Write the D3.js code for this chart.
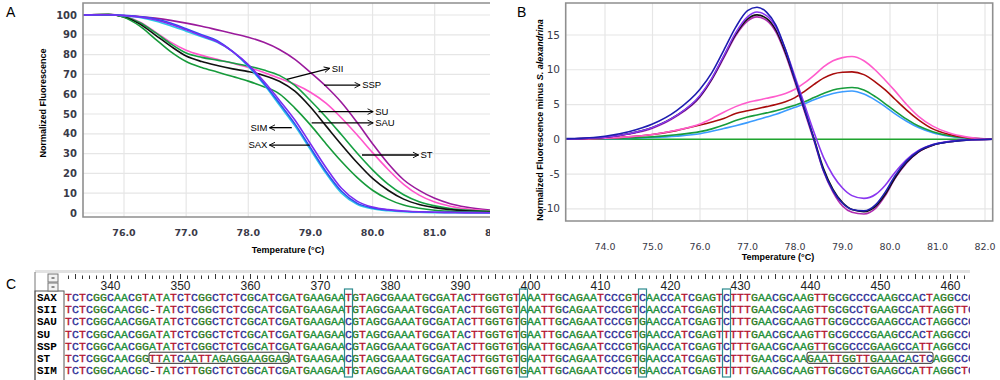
<!DOCTYPE html>
<html>
<head>
<meta charset="utf-8">
<script src="https://cdn.jsdelivr.net/npm/d3@7"></script>
<style>
  body { margin: 0; background: #fff; }
  #chart { width: 1000px; height: 380px; }
  text { font-family: "Liberation Sans", Arial, sans-serif; }
</style>
</head>
<body>
<div id="chart"></div>
<script>
/* panel A : melting curves, normalized fluorescence vs temperature */
const tempA = [75.34, 75.75, 76, 76.25, 76.5, 76.75, 77, 77.25, 77.5, 77.75, 78, 78.25, 78.5,
    78.75, 79, 79.25, 79.5, 79.75, 80, 80.25, 80.5, 80.75, 81, 81.25, 81.5, 81.9];
const purpleA = [100, 100.2, 99.7, 99.2, 98.4, 97.3, 95.9, 94.3, 92.5, 90.7, 88.8, 86.2, 82.6, 77.6, 71, 64, 55.8, 45.8, 35, 25, 16.8, 11.4, 7.4, 4.7, 3, 1.4];
const pinkA = [100, 100.3, 99.3, 96.5, 91.5, 86.3, 82.2, 79.6, 77.6, 75.6, 73.5, 71, 68, 65, 61, 55.5, 48, 39.5, 30.5, 22, 14.5, 9, 5.5, 3.4, 2.1, 1];
const green1A = [100, 100.2, 99.2, 96.2, 91.2, 85.5, 80.8, 78.6, 77.2, 75.8, 74.2, 72.2, 69.5, 64.5, 56.8, 48.5, 39.5, 30.3, 21.8, 14.6, 9.2, 5.7, 3.6, 2.3, 1.5, 0.8];
const blackA = [100, 100.1, 99, 95.5, 90, 84.3, 79.3, 76.5, 74.5, 72.8, 71.4, 69.5, 66.5, 61.5, 53.5, 44, 34.5, 25.5, 17.5, 11.5, 7, 4.3, 2.7, 1.7, 1.1, 0.6];
const green2A = [100, 100.4, 98.8, 94.5, 88, 81.5, 76.5, 73.5, 71.2, 68.9, 66.6, 63.8, 60.2, 53, 44.5, 35, 26, 18, 11.5, 7, 4, 2.4, 1.4, 0.9, 0.6, 0.3];
const cyanA = [100, 100.1, 99.6, 98.7, 97, 94.6, 91.8, 89, 86.2, 81.5, 74, 65, 54.5, 44, 32, 20, 10, 4.4, 2.1, 1.1, 0.6, 0.4, 0.2, 0.1, 0.1, 0];
const blueA = [100, 100.1, 99.8, 99.1, 98, 96, 93, 90, 87, 81.5, 74.5, 65.5, 55.5, 45, 33, 21, 11, 5, 2.6, 1.5, 0.9, 0.6, 0.4, 0.3, 0.2, 0.1];
const violetA = [100, 100.1, 99.7, 99, 97.6, 95.3, 92.5, 89.5, 86.5, 81.5, 75, 66.5, 57, 47, 35, 23, 12.5, 6, 3, 1.7, 1, 0.6, 0.4, 0.3, 0.2, 0.1];
const xTicksA = [76, 77, 78, 79, 80, 81, 82];
const yTicksA = [0, 10, 20, 30, 40, 50, 60, 70, 80, 90, 100];

// arrows of panel A, given in temperature / fluorescence units
const arrowsA = [
    { label: "SII", t0: 78.62, v0: 67.5, t1: 79.31, v1: 73.1 },
    { label: "SSP", t0: 79.22, v0: 64.6, t1: 79.80, v1: 64.6 },
    { label: "SU", t0: 79.13, v0: 51.2, t1: 80.01, v1: 51.2 },
    { label: "SAU", t0: 79.02, v0: 45.5, t1: 80.01, v1: 45.5 },
    { label: "SIM", t0: 78.70, v0: 43.1, t1: 78.34, v1: 43.1 },
    { label: "SAX", t0: 78.99, v0: 34.3, t1: 78.34, v1: 34.3 },
    { label: "ST", t0: 79.83, v0: 29.3, t1: 80.74, v1: 29.3 }
];

/* panel B : difference curves minus S. alexandrina */
const tempB = [73.17, 73.5, 74, 74.5, 75, 75.5, 76, 76.25, 76.5, 76.75, 77, 77.2, 77.4, 77.6, 77.8, 78,
    78.2, 78.4, 78.6, 78.8, 79, 79.2, 79.45, 79.7, 79.9, 80.1, 80.35, 80.6, 80.9, 81.25, 81.6, 82.16];
const flatB = [0, 0, 0, 0, 0, 0, 0, 0, 0, 0, 0, 0, 0, 0, 0, 0, 0, 0, 0, 0, 0, 0, 0, 0, 0, 0, 0, 0, 0, 0, 0, 0];
const lightBlueB = [0, 0.02, 0.06, 0.13, 0.25, 0.45, 0.8, 1.15, 1.55, 1.95, 2.4, 2.8, 3.2, 3.6, 4.1, 4.6, 5.1, 5.7, 6.2, 6.6, 6.85, 6.95, 6.5, 5.6, 4.7, 3.7, 2.6, 1.7, 0.95, 0.45, 0.18, 0];
const greenB = [0, 0.03, 0.08, 0.18, 0.35, 0.65, 1.1, 1.5, 2.05, 2.7, 3.2, 3.5, 3.8, 4.1, 4.5, 4.9, 5.4, 6, 6.6, 7.1, 7.35, 7.45, 7.1, 6.1, 5.1, 4.1, 2.9, 1.9, 1.1, 0.5, 0.2, 0];
const redB = [0, 0.05, 0.15, 0.35, 0.7, 1.25, 2.05, 2.5, 3, 3.7, 4.1, 4.4, 4.7, 5, 5.4, 6, 6.9, 7.9, 8.8, 9.4, 9.65, 9.7, 9.3, 8.2, 7.1, 5.8, 4.2, 2.8, 1.5, 0.7, 0.25, 0];
const pinkB = [0, 0.05, 0.15, 0.35, 0.7, 1.3, 2.2, 3, 3.9, 4.7, 5.3, 5.6, 5.9, 6.2, 6.6, 7.2, 8.1, 9.2, 10.4, 11.3, 11.75, 11.9, 11.3, 9.9, 8.5, 7, 5, 3.3, 1.9, 0.9, 0.35, 0];
const magentaB = [0.05, 0.1, 0.3, 0.75, 1.6, 3.3, 6.1, 8.6, 11.7, 14.9, 17, 17.6, 17.1, 15.4, 12.2, 8.2, 4, -0.2, -4.6, -7.6, -9.6, -10.5, -10.75, -9.9, -8.1, -5.7, -3.4, -1.85, -0.85, -0.35, -0.12, 0];
const blackB = [0.05, 0.1, 0.3, 0.8, 1.7, 3.4, 6.2, 8.7, 11.9, 15.1, 17.3, 17.9, 17.4, 15.7, 12.5, 8.5, 4.3, 0.1, -4.2, -7.2, -9.1, -10.1, -10.4, -9.6, -7.9, -5.6, -3.3, -1.8, -0.85, -0.35, -0.12, 0];
const violetB = [0.05, 0.1, 0.3, 0.8, 1.7, 3.4, 6.3, 8.8, 12, 15.3, 17.6, 18.3, 17.8, 16.1, 12.9, 9, 5, 1, -2.6, -5.2, -7, -8.1, -8.5, -7.9, -6.6, -4.8, -2.9, -1.6, -0.75, -0.3, -0.1, 0];
const navyB = [0.1, 0.15, 0.45, 1.1, 2.2, 4.1, 7.2, 9.6, 12.8, 16.1, 18.5, 19, 18.3, 16.4, 12.9, 8.6, 4.4, 0, -4.5, -7.4, -9.2, -10.1, -10.3, -9.4, -7.6, -5.3, -3.1, -1.7, -0.8, -0.35, -0.12, 0];
const xTicksB = [74, 75, 76, 77, 78, 79, 80, 81, 82];
const yTicksB = [-10, -5, 0, 5, 10, 15];

/* panel C : alignment */
const seqNames = ["SAX", "SII", "SAU", "SU", "SSP", "ST", "SIM"];
const seqs = [
    "TCTCGGCAACGTATATCTCGGCTCTCGCATCGATGAAGAATGTAGCGAAATGCGATACTTGGTGTAAATTGCAGAATCCCGTCAACCATCGAGTCTTTGAACGCAAGTTGCGCCCCAAGCCACTAGGCCC",
    "TCTCGGCAACGC-TATCTCGGCTCTCGCATCGATGAAGAATGTAGCGAAATGCGATACTTGGTGTAAATTGCAGAATCCCGTCAACCATCGAGTCTTTGAACGCAAGTTGCGCCTGAAGCCATTAGGTTC",
    "TCTCGGCAACGGATATCTCGGCTCTCGCATCGATGAAGAACGTAGCGAAATGCGATACTTGGTGTGAATTGCAGAATCCCGTGAACCATCGAGTCTTTGAACGCAAGTTGCGCCCGAAGCCACTAGGCCC",
    "TCTCGGCAACGGATATCTCGGCTCTCGCATCGATGAAGAACGTAGCGAAATGCGATACTTGGTGTGAATTGCAGAATCCCGTGAACCATCGAGTTTTTGAACGCAAGTTGCGCCCGAAGCCACTAGGCCC",
    "TCTCGGCAACGGATATCTCGGCTCTCGCATCGATGAAGAACGTAGCGAAATGCGATACTTGGTGTGAATTGCAGAATCCCGTGAACCATCGAGTCTTTGAACGCAAGTTGCGCCCGAAGCCATTAGGCCC",
    "TCTCGGCAACGGTTATCAATTAGAGGAAGGAGATGAAGAACGTAGCGAAATGCGATACTTGGTGTGAATTGCAGAATCCCGTGAACCATCGAGTCTTTGAACGCAAGAATTGGTTGAAACACTCAGGCCC",
    "TCTCGGCAACGC-TATCTTGGCTCTCGCATCGATGAAGAATGTAGCGAAATGCGATACTTGGTGTGAATTGCAGAATCCCGTGAACCATCGAGTTTTTGAACGCAAGTTGCGCCTGAAGCCATTAGGCTC"
];
const firstPos = 334;
const rulerLabels = [340, 350, 360, 370, 380, 390, 400, 410, 420, 430, 440, 450, 460];
const snpPos = [374, 399, 416, 428];
const stBlocks = [[346, 365], [440, 457]];

const width = 1000;
const height = 380;

const svg = d3.select("#chart")
    .append("svg")
    .attr("width", width)
    .attr("height", height);

const defs = svg.append("defs");
defs.append("marker")
    .attr("id", "arrowhead")
    .attr("viewBox", "0 0 10 10")
    .attr("refX", 9)
    .attr("refY", 5)
    .attr("markerWidth", 7)
    .attr("markerHeight", 7)
    .attr("markerUnits", "userSpaceOnUse")
    .attr("orient", "auto")
    .append("path")
    .attr("d", "M1,1 L9,5 L1,9")
    .attr("fill", "none")
    .attr("stroke", "#000")
    .attr("stroke-width", 1.3);

// generic helper that draws one melt panel
function drawPanel(cfg) {
    const outer = svg.append("g");
    // panel A is cropped on its right side
    if (cfg.cropRight) {
        defs.append("clipPath").attr("id", cfg.id + "crop")
            .append("rect").attr("x", 0).attr("y", 0).attr("width", cfg.cropRight).attr("height", 265);
        outer.attr("clip-path", `url(#${cfg.id}crop)`);
    }
    const g = outer.append("g");
    const x = cfg.x, y = cfg.y;

    defs.append("clipPath").attr("id", cfg.id)
        .append("rect")
        .attr("x", cfg.left).attr("y", cfg.top)
        .attr("width", cfg.right - cfg.left).attr("height", cfg.bottom - cfg.top);

    // grid
    g.selectAll(".vgrid")
        .data(cfg.xTicks.filter(d => x(d) < cfg.right))
        .join("line")
        .attr("x1", d => x(d)).attr("x2", d => x(d))
        .attr("y1", cfg.top).attr("y2", cfg.bottom)
        .attr("stroke", "#e6e6e6").attr("stroke-width", 1.2);
    g.selectAll(".hgrid")
        .data(cfg.yTicks)
        .join("line")
        .attr("x1", cfg.left).attr("x2", cfg.right)
        .attr("y1", d => y(d)).attr("y2", d => y(d))
        .attr("stroke", "#e6e6e6").attr("stroke-width", 1.2);

    // curves
    const line = d3.line()
        .x(d => x(d[0]))
        .y(d => y(d[1]))
        .curve(d3.curveMonotoneX);

    g.append("g")
        .attr("clip-path", `url(#${cfg.id})`)
        .selectAll("path")
        .data(cfg.series)
        .join("path")
        .attr("fill", "none")
        .attr("stroke", d => d.color)
        .attr("stroke-width", 1.6)
        .attr("d", d => line(cfg.temps.map((t, i) => [t, d.values[i]])));

    // frame
    const f = g.append("path")
        .attr("fill", "none")
        .attr("stroke", "#8f8f8f")
        .attr("stroke-width", 1.6);
    if (cfg.cropRight) {
        f.attr("d", `M${cfg.right},${cfg.top}H${cfg.left}V${cfg.bottom}H${cfg.right}`);
    } else {
        f.attr("d", `M${cfg.left},${cfg.top}H${cfg.right}V${cfg.bottom}H${cfg.left}Z`);
    }

    // tick labels
    g.selectAll(".xlab")
        .data(cfg.xTicks)
        .join("text")
        .attr("x", d => x(d))
        .attr("y", cfg.xLabelY)
        .attr("text-anchor", "middle")
        .style("font-family", "DejaVu Sans, sans-serif")
        .style("font-size", "9.5px")
        .style("font-weight", cfg.bold ? "bold" : "normal")
        .attr("fill", "#3a3a48")
        .text(d => d.toFixed(1));
    g.selectAll(".ylab")
        .data(cfg.yTicks)
        .join("text")
        .attr("x", cfg.yLabelX)
        .attr("y", d => y(d) + 3.6)
        .attr("text-anchor", "end")
        .style("font-family", "DejaVu Sans, sans-serif")
        .style("font-size", cfg.bold ? "10px" : "10.5px")
        .style("font-weight", cfg.bold ? "bold" : "normal")
        .attr("fill", "#3a3a48")
        .text(d => d);

    // axis titles
    g.append("text")
        .attr("x", cfg.xTitleX)
        .attr("y", cfg.xTitleY)
        .attr("text-anchor", "middle")
        .style("font-size", "9px")
        .style("font-weight", "bold")
        .text("Temperature (°C)");

    const yt = g.append("text")
        .attr("transform", `translate(${cfg.yTitleX},${cfg.yTitleY}) rotate(-90)`)
        .attr("text-anchor", "middle")
        .style("font-size", "9px")
        .style("font-weight", "bold");
    cfg.yTitle.forEach(part => {
        yt.append("tspan").style("font-style", part.italic ? "italic" : "normal").text(part.text);
    });

    // panel letter
    svg.append("text")
        .attr("x", cfg.letterX)
        .attr("y", cfg.letterY)
        .style("font-size", "14px")
        .text(cfg.letter);

    return g;
}

/* ---------- A ---------- */
const xA = d3.scaleLinear().domain([75.34, 81.89]).range([83, 490]);
const yA = d3.scaleLinear().domain([0, 100]).range([213, 15]);

const gA = drawPanel({
    id: "clipA", x: xA, y: yA, left: 83, right: 490, top: 3, bottom: 217, cropRight: 490,
    xTicks: xTicksA, yTicks: yTicksA, temps: tempA, bold: true,
    xLabelY: 235.5, yLabelX: 77, xTitleX: 288, xTitleY: 253, yTitleX: 46, yTitleY: 103,
    yTitle: [{ text: "Normalized Fluorescence" }],
    letter: "A", letterX: 6, letterY: 17,
    series: [
        { color: "#9a1a9c", values: purpleA },
        { color: "#ff55cc", values: pinkA },
        { color: "#16a043", values: green1A },
        { color: "#111111", values: blackA },
        { color: "#169a3a", values: green2A },
        { color: "#2ec8e6", values: cyanA },
        { color: "#2f4df0", values: blueA },
        { color: "#7b2cf0", values: violetA }
    ]
});

// arrows
gA.selectAll(".arrow")
    .data(arrowsA)
    .join("line")
    .attr("x1", d => xA(d.t0)).attr("y1", d => yA(d.v0))
    .attr("x2", d => xA(d.t1)).attr("y2", d => yA(d.v1))
    .attr("stroke", "#000")
    .attr("stroke-width", 1.3)
    .attr("marker-end", "url(#arrowhead)");
gA.selectAll(".alabel")
    .data(arrowsA)
    .join("text")
    .attr("x", d => d.t1 > d.t0 ? xA(d.t1) + 2 : xA(d.t1) - 2)
    .attr("y", d => yA(d.v1) + 3.4)
    .attr("text-anchor", d => d.t1 > d.t0 ? "start" : "end")
    .style("font-size", "9.5px")
    .text(d => d.label);

/* ---------- B ---------- */
const xB = d3.scaleLinear().domain([74, 82]).range([605, 985]);
const yB = d3.scaleLinear().domain([0, 15]).range([139.3, 35]);

drawPanel({
    id: "clipB", x: xB, y: yB, left: 565.7, right: 992.7, top: 3, bottom: 221,
    xTicks: xTicksB, yTicks: yTicksB, temps: tempB, bold: false,
    xLabelY: 249.5, yLabelX: 560, xTitleX: 778, xTitleY: 260, yTitleX: 543, yTitleY: 120,
    yTitle: [{ text: "Normalized Fluorescence minus  " }, { text: "S. alexandrina", italic: true }],
    letter: "B", letterX: 517, letterY: 17,
    series: [
        { color: "#1fa52f", values: flatB },
        { color: "#3b9cff", values: lightBlueB },
        { color: "#179c3c", values: greenB },
        { color: "#a80c0c", values: redB },
        { color: "#ff5ccc", values: pinkB },
        { color: "#b02cb0", values: magentaB },
        { color: "#111111", values: blackB },
        { color: "#8a36f0", values: violetB },
        { color: "#1e1eb0", values: navyB }
    ]
});

/* ---------- C ---------- */
const xC = d3.scaleLinear().domain([firstPos, firstPos + 130]).range([65, 975]);
const yC = d3.scaleBand().domain(seqNames).range([291, 376]);
const baseColor = { A: "#21903a", C: "#2d2d96", G: "#2f7a22", T: "#b3122e", "-": "#222" };

defs.append("clipPath").attr("id", "clipC")
    .append("rect").attr("x", 35).attr("y", 262).attr("width", 935).attr("height", 118);

const gC = svg.append("g");

svg.append("text")
    .attr("x", 6).attr("y", 289)
    .style("font-size", "14px")
    .text("C");

// ruler strip
gC.append("rect")
    .attr("x", 35).attr("y", 270).attr("width", 935).attr("height", 3)
    .attr("fill", "#e2e2e2");

const rulerPos = d3.range(firstPos, firstPos + 130);
gC.append("g").attr("clip-path", "url(#clipC)")
    .selectAll("line")
    .data(rulerPos)
    .join("line")
    .attr("x1", d => xC(d + 0.5)).attr("x2", d => xC(d + 0.5))
    .attr("y1", d => d % 5 === 0 ? 274 : 275.5)
    .attr("y2", 279)
    .attr("stroke", "#333")
    .attr("stroke-width", 1);

gC.selectAll(".rlab")
    .data(rulerLabels)
    .join("text")
    .attr("x", d => xC(d + 0.5))
    .attr("y", 290)
    .attr("text-anchor", "middle")
    .style("font-size", "12px")
    .attr("fill", "#222")
    .text(d => d);

// name column and header buttons
gC.append("line")
    .attr("x1", 35).attr("x2", 35).attr("y1", 272).attr("y2", 380)
    .attr("stroke", "#777");
gC.append("rect")
    .attr("x", 35).attr("y", 291).attr("width", 29).attr("height", 92)
    .attr("fill", "none").attr("stroke", "#555");
[274, 283].forEach(yy => {
    gC.append("rect")
        .attr("x", 48).attr("y", yy).attr("width", 10).attr("height", 8)
        .attr("fill", "#f3f3f3").attr("stroke", "#777");
    gC.append("line")
        .attr("x1", 51.5).attr("x2", 54.5).attr("y1", yy + 4).attr("y2", yy + 4)
        .attr("stroke", "#222");
});

gC.selectAll(".name")
    .data(seqNames)
    .join("text")
    .attr("x", 37)
    .attr("y", d => yC(d) + yC.bandwidth() / 2 + 4)
    .style("font-family", "Liberation Mono, monospace")
    .style("font-size", "11px")
    .style("font-weight", "bold")
    .text(d => d);

// bases
const bases = [];
seqNames.forEach((name, r) => {
    seqs[r].split("").forEach((ch, i) => bases.push({ name: name, pos: firstPos + i, ch: ch }));
});

gC.append("g").attr("clip-path", "url(#clipC)")
    .selectAll("text")
    .data(bases)
    .join("text")
    .attr("x", d => xC(d.pos + 0.5))
    .attr("y", d => yC(d.name) + yC.bandwidth() / 2 + 4)
    .attr("text-anchor", "middle")
    .style("font-family", "Liberation Mono, monospace")
    .style("font-size", "11.5px")
    .attr("fill", d => baseColor[d.ch])
    .attr("stroke", d => baseColor[d.ch])
    .attr("stroke-width", 0.35)
    .text(d => d.ch);

// SNP columns
gC.selectAll(".snp")
    .data(snpPos)
    .join("rect")
    .attr("x", d => xC(d) - 0.5)
    .attr("y", 289)
    .attr("width", d => xC(d + 1) - xC(d) + 1)
    .attr("height", 88)
    .attr("fill", "none")
    .attr("stroke", "#2b8a8e")
    .attr("stroke-width", 1.2);

// ST specific blocks
gC.selectAll(".stblock")
    .data(stBlocks)
    .join("rect")
    .attr("x", d => xC(d[0]))
    .attr("y", yC("ST") + 0.5)
    .attr("width", d => xC(d[1] + 1) - xC(d[0]))
    .attr("height", yC.bandwidth() - 1)
    .attr("rx", 2)
    .attr("fill", "none")
    .attr("stroke", "#333")
    .attr("stroke-width", 1);
</script>
</body>
</html>
